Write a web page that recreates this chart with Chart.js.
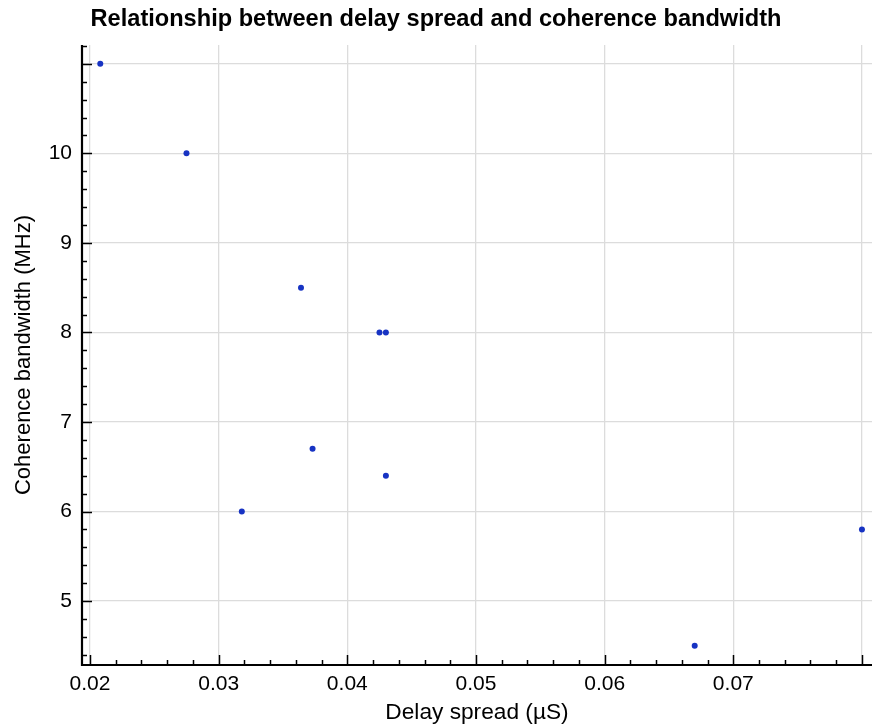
<!DOCTYPE html>
<html>
<head>
<meta charset="utf-8">
<script src="https://cdn.jsdelivr.net/npm/chart.js@4"></script>
<style>
html,body{margin:0;padding:0;background:#fff;}
#wrap{width:872px;height:725px;position:relative;}
</style>
</head>
<body>
<div id="wrap"><canvas id="c" width="872" height="725"></canvas></div>
<script>
const delaySpread = [0.0208, 0.0275, 0.0364, 0.0425, 0.0430, 0.0373, 0.0430, 0.0318, 0.0670, 0.0800];
const coherenceBandwidth = [11.0, 10.0, 8.5, 8.0, 8.0, 6.7, 6.4, 6.0, 4.5, 5.8];
const xTicks = [0.02, 0.03, 0.04, 0.05, 0.06, 0.07, 0.08];
const yTicks = [5, 6, 7, 8, 9, 10, 11];
const xHiddenLabels = [0.08];
const yHiddenLabels = [11];

const FONT = "'Liberation Sans', Arial, Helvetica, sans-serif";

const innerTicks = {
  id: 'innerTicks',
  afterDatasetsDraw(chart) {
    const ctx = chart.ctx;
    const xs = chart.scales.x, ys = chart.scales.y;
    const a = chart.chartArea;
    ctx.save();
    ctx.strokeStyle = '#000';
    ctx.lineWidth = 1.5;
    const xStep = 0.002;
    for (let i = Math.ceil(xs.min / xStep); i * xStep <= xs.max; i++) {
      const v = i * xStep;
      const major = Math.abs(v * 100 - Math.round(v * 100)) < 1e-6;
      const px = Math.round(xs.getPixelForValue(v)) + 0.5;
      ctx.beginPath();
      ctx.moveTo(px, a.bottom);
      ctx.lineTo(px, a.bottom - (major ? 10 : 5));
      ctx.stroke();
    }
    const yStep = 0.2;
    for (let i = Math.ceil(ys.min / yStep); i * yStep <= ys.max; i++) {
      const v = i * yStep;
      const major = Math.abs(v - Math.round(v)) < 1e-6;
      const py = Math.round(ys.getPixelForValue(v)) + 0.5;
      ctx.beginPath();
      ctx.moveTo(a.left, py);
      ctx.lineTo(a.left + (major ? 10 : 5), py);
      ctx.stroke();
    }
    ctx.lineWidth = 2.2;
    ctx.beginPath();
    ctx.moveTo(a.left, a.top);
    ctx.lineTo(a.left, a.bottom);
    ctx.lineTo(a.right, a.bottom);
    ctx.stroke();
    ctx.restore();
  }
};

new Chart(document.getElementById('c'), {
  type: 'scatter',
  data: {
    datasets: [{
      data: delaySpread.map((x, i) => ({x: x, y: coherenceBandwidth[i]})),
      backgroundColor: '#1733c3',
      borderColor: '#1733c3',
      pointRadius: 3,
      borderWidth: 0
    }]
  },
  options: {
    responsive: false,
    animation: false,
    events: [],
    layout: {autoPadding: false, padding: {left: 0, right: 0, top: 0, bottom: 0}},
    plugins: {
      legend: {display: false},
      tooltip: {enabled: false},
      title: {
        display: true,
        text: 'Relationship between delay spread and coherence bandwidth',
        color: '#000',
        font: {family: FONT, size: 23.6, weight: 'bold'},
        padding: {top: 5, bottom: 11.7}
      }
    },
    scales: {
      x: {
        type: 'linear',
        min: 0.01938,
        max: 0.08078,
        afterBuildTicks: s => { s.ticks = xTicks.map(v => ({value: v})); },
        afterFit: s => { s.height = 60; s.paddingLeft = 0; s.paddingRight = 0; },
        ticks: {
          color: '#000',
          font: {family: FONT, size: 21},
          padding: 7,
          maxRotation: 0,
          autoSkip: false,
          callback: v => xHiddenLabels.some(h => Math.abs(h - v) < 1e-9) ? '' : v.toFixed(2)
        },
        grid: {color: '#dcdcdc', lineWidth: 1.3, drawTicks: false},
        border: {display: false},
        title: {
          display: true,
          text: 'Delay spread (µS)',
          color: '#000',
          font: {family: FONT, size: 22.7},
          padding: {top: 0, bottom: -1}
        }
      },
      y: {
        type: 'linear',
        min: 4.286,
        max: 11.21,
        afterBuildTicks: s => { s.ticks = yTicks.map(v => ({value: v})); },
        afterFit: s => { s.width = 82; s.paddingTop = 0; s.paddingBottom = 0; },
        ticks: {
          color: '#000',
          font: {family: FONT, size: 21},
          padding: 10,
          autoSkip: false,
          callback: v => yHiddenLabels.some(h => Math.abs(h - v) < 1e-9) ? '' : String(v)
        },
        grid: {color: '#dcdcdc', lineWidth: 1.3, drawTicks: false},
        border: {display: false},
        title: {
          display: true,
          text: 'Coherence bandwidth (MHz)',
          color: '#000',
          font: {family: FONT, size: 22},
          padding: {top: 11, bottom: 0}
        }
      }
    }
  },
  plugins: [innerTicks]
});
</script>
</body>
</html>
